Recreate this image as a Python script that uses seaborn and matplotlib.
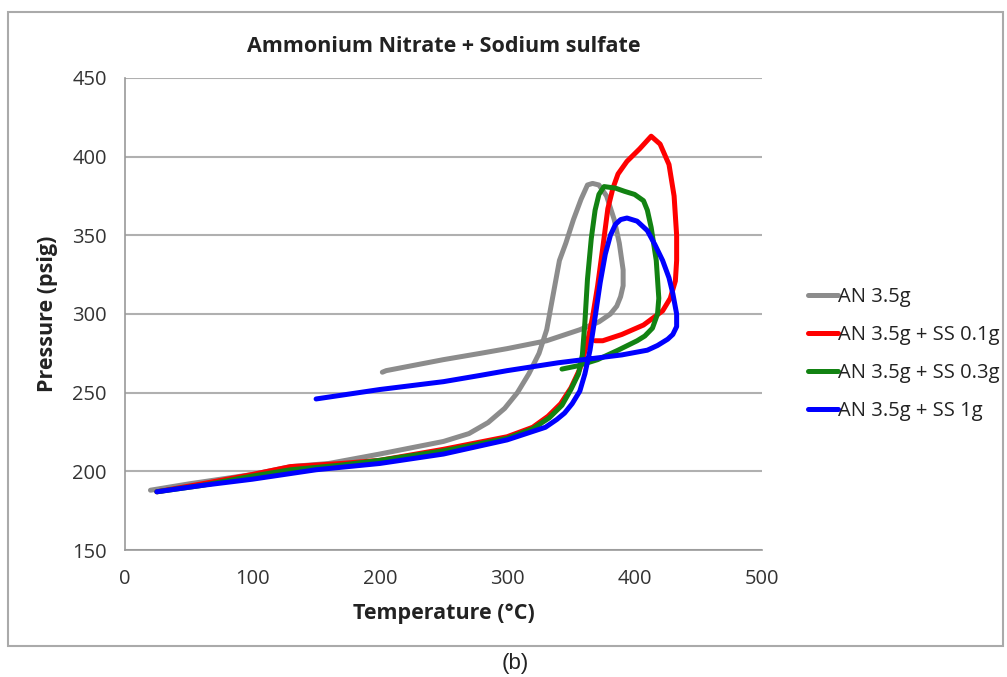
import matplotlib
matplotlib.use("Agg")
import matplotlib.pyplot as plt
import seaborn as sns
import pandas as pd
from matplotlib.patches import Rectangle

# Data
an_x = [20, 50, 100, 130, 160, 200, 250, 270, 285, 298, 308, 317, 325, 331, 336, 341, 346, 352, 358, 363, 367, 372, 378, 384, 388, 391, 391, 389, 386, 381, 372, 357, 331, 300, 279, 250, 205, 202]
an_y = [188, 192, 198, 203, 205, 211, 219, 224, 231, 240, 250, 262, 275, 290, 312, 334, 345, 360, 373, 382, 383, 382, 375, 360, 345, 328, 318, 311, 305, 300, 295, 290, 283, 278, 275, 271, 264, 263]

ss01_x = [25, 60, 100, 130, 170, 200, 250, 300, 320, 332, 342, 350, 357, 363, 367, 371, 375, 379, 383, 387, 394, 404, 413, 420, 427, 431, 433, 433, 432, 428, 422, 407, 390, 375, 369]
ss01_y = [187, 192, 198, 203, 205, 207, 214, 222, 228, 235, 243, 253, 265, 282, 298, 318, 342, 367, 380, 389, 397, 405, 413, 408, 395, 375, 350, 334, 321, 310, 302, 293, 287, 283, 283]

ss03_x = [25, 60, 100, 130, 170, 200, 250, 300, 320, 333, 343, 350, 356, 359, 361, 363, 366, 369, 372, 376, 385, 392, 400, 407, 410, 413, 417, 419, 418, 414, 408, 402, 387, 371, 355, 343]
ss03_y = [187, 191, 197, 201, 204, 207, 213, 221, 227, 234, 242, 252, 262, 274, 295, 322, 348, 366, 376, 381, 380, 378, 376, 372, 366, 355, 334, 310, 300, 291, 286, 283, 277, 271, 267, 265]

ss1_x = [25, 60, 100, 150, 200, 250, 300, 330, 339, 345, 351, 357, 361, 365, 369, 373, 377, 381, 385, 389, 394, 402, 410, 416, 422, 427, 430, 433, 433, 430, 426, 418, 410, 390, 370, 340, 300, 279, 250, 200, 150]
ss1_y = [187, 191, 195, 201, 205, 211, 220, 228, 233, 237, 243, 251, 262, 277, 298, 320, 338, 350, 357, 360, 361, 359, 353, 344, 334, 323, 313, 300, 292, 287, 284, 280, 277, 274, 272, 269, 264, 261, 257, 252, 246]

labels = ["AN 3.5g", "AN 3.5g + SS 0.1g", "AN 3.5g + SS 0.3g", "AN 3.5g + SS 1g"]
colors = ["#8c8c8c", "#ff0000", "#128212", "#0000ff"]

frames = []
for lab, xs, ys in zip(labels, [an_x, ss01_x, ss03_x, ss1_x], [an_y, ss01_y, ss03_y, ss1_y]):
    frames.append(pd.DataFrame({"Temperature": xs, "Pressure": ys, "series": lab, "order": range(len(xs))}))
df = pd.concat(frames, ignore_index=True)

sns.set_style("white")
plt.rcParams["font.family"] = ["Open Sans", "DejaVu Sans"]

fig = plt.figure(figsize=(10.07, 6.77), dpi=100)
ax = fig.add_axes([125/1007, 1 - 550/677, (762-125)/1007, (550-78)/677])

for lab, col in zip(labels, colors):
    sub = df[df["series"] == lab]
    sns.lineplot(data=sub, x="Temperature", y="Pressure", sort=False, estimator=None,
                 color=col, lw=3.6, label=lab, ax=ax)
for ln in ax.get_lines():
    ln.set_solid_joinstyle("round")
    ln.set_solid_capstyle("round")

ax.set_xlim(0, 500)
ax.set_ylim(150, 450)
ax.set_xticks(range(0, 501, 100))
ax.set_yticks(range(150, 451, 50))
ax.yaxis.grid(True, color="#b0b0b0", lw=1.5)
ax.set_axisbelow(True)
for s in ["top", "right"]:
    ax.spines[s].set_visible(False)
for s in ["left", "bottom"]:
    ax.spines[s].set_color("#999999")
    ax.spines[s].set_linewidth(1.2)
ax.tick_params(axis="both", which="both", length=5, color="#999999", direction="out",
               labelsize=14.5, labelcolor="#333333")
ax.tick_params(axis="x", pad=9)
ax.tick_params(axis="y", pad=8)
ax.set_xlabel("Temperature (°C)", fontsize=15.5, fontweight="bold", color="#222222", labelpad=10)
ax.set_ylabel("Pressure (psig)", fontsize=15.5, fontweight="bold", color="#222222", labelpad=10)
ax.set_title("Ammonium Nitrate + Sodium sulfate", fontsize=15.5, fontweight="bold", color="#222222", pad=19)

leg = ax.legend(loc="center left", bbox_to_anchor=(1.06, 0.415), frameon=False, fontsize=14.5,
                handlelength=1.5, handletextpad=0.0, labelspacing=0.9, borderaxespad=0.0)
for t in leg.get_texts():
    t.set_color("#222222")

fig.patches.append(Rectangle((8/1007, 1 - 646/677), (1003-8)/1007, (646-12)/677,
                             transform=fig.transFigure, fill=False, edgecolor="#aaaaaa", lw=1.5))
fig.text(515/1007, 1 - 664/677, "(b)", ha="center", va="center", fontsize=16,
         family=["Liberation Sans", "DejaVu Sans"], color="#222222")

fig.savefig("out.png", dpi=100)
